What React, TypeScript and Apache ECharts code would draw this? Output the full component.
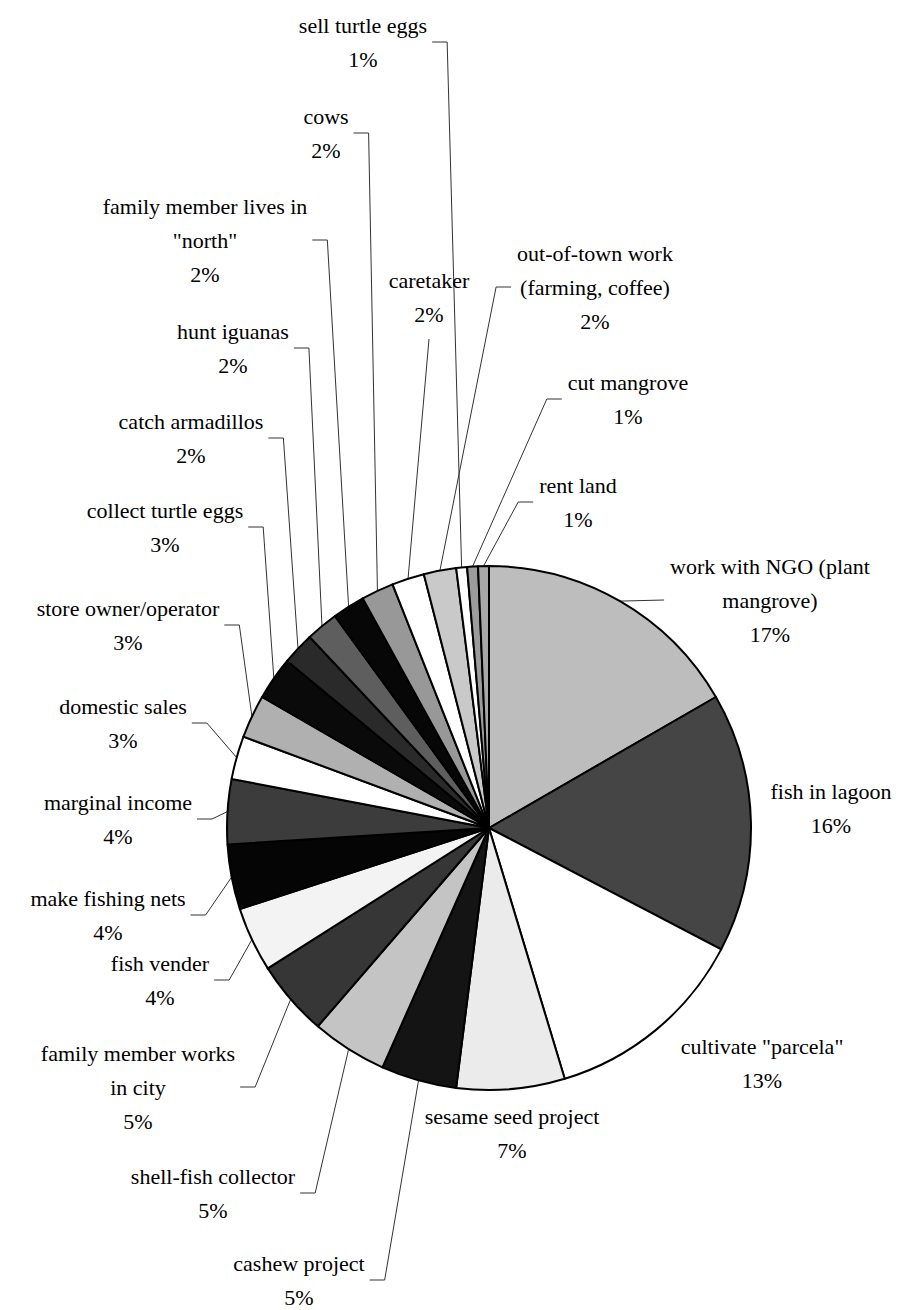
import React, { useEffect, useRef } from "react";
import * as echarts from "echarts";

// Categories (label text, line breaks as printed), clockwise from 12 o'clock
const categories: string[] = [
  "work with NGO (plant\nmangrove)",
  "fish in lagoon",
  'cultivate "parcela"',
  "sesame seed project",
  "cashew project",
  "shell-fish collector",
  "family member works\nin city",
  "fish vender",
  "make fishing nets",
  "marginal income",
  "domestic sales",
  "store owner/operator",
  "collect turtle eggs",
  "catch armadillos",
  "hunt iguanas",
  'family member lives in\n"north"',
  "cows",
  "caretaker",
  "out-of-town work\n(farming, coffee)",
  "sell turtle eggs",
  "cut mangrove",
  "rent land",
];

// Number of responses per category (total 150)
const counts: number[] = [25, 24, 19, 10, 7, 7, 7, 6, 6, 6, 4, 4, 4, 3, 3, 3, 3, 3, 3, 1, 1, 1];

// Grey shades of the printed slices
const sliceColors: string[] = [
  "#bdbdbd", "#454545", "#ffffff", "#ebebeb", "#141414", "#c4c4c4",
  "#363636", "#f3f3f3", "#050505", "#3c3c3c", "#ffffff", "#b0b0b0",
  "#0a0a0a", "#2a2a2a", "#5e5e5e", "#070707", "#989898", "#ffffff",
  "#c9c9c9", "#ffffff", "#9c9c9c", "#a8a8a8",
];

// Label placement (centre of the text block) and leader style
type Kind = "left" | "right" | "below" | "direct" | "none";
const labelCenters: [number, number][] = [
  [770, 600], [831, 808], [762, 1063], [512, 1133], [299, 1280], [213, 1193],
  [138, 1087], [160, 980], [108, 915], [118, 819], [123, 723], [128, 625],
  [165, 527], [191, 438], [233, 348], [205, 240], [326, 133], [429, 297],
  [595, 287], [363, 42], [628, 399], [578, 502],
];
const leaderKinds: Kind[] = [
  "direct", "none", "none", "none", "left", "left",
  "left", "left", "left", "left", "left", "left",
  "left", "left", "left", "left", "left", "below",
  "right", "left", "right", "right",
];

const total = counts.reduce((a, b) => a + b, 0);

export default function App() {
  const ref = useRef<HTMLDivElement>(null);
  useEffect(() => {
    if (!ref.current) return;
    const chart = echarts.init(ref.current, null, { renderer: "svg" });
    const option: any = {
      animation: false,
      backgroundColor: "#ffffff",
      series: [
        {
          type: "pie",
          center: [489, 828],
          radius: 262,
          startAngle: 90,
          clockwise: true,
          avoidLabelOverlap: false,
          data: categories.map((name, i) => ({
            name,
            value: counts[i],
            itemStyle: { color: sliceColors[i] },
          })),
          itemStyle: { borderColor: "#000", borderWidth: 2 },
          emphasis: { disabled: true },
          label: {
            show: true,
            position: "outside",
            overflow: "none",
            fontFamily: "'Liberation Serif', 'DejaVu Serif', serif",
            fontSize: 22,
            lineHeight: 34,
            color: "#000",
            formatter: (p: any) => `${p.name}\n${Math.round((p.value / total) * 100)}%`,
          },
          labelLine: {
            show: true,
            length: 10,
            length2: 10,
            smooth: false,
            lineStyle: { color: "#333", width: 1 },
          },
          labelLayout: (p: any) => {
            const i = p.dataIndex;
            const [x, y] = labelCenters[i];
            const w = p.labelRect.width;
            const h = p.labelRect.height;
            const a = p.labelLinePoints ? p.labelLinePoints[0] : [x, y];
            const kind = leaderKinds[i];
            let pts: number[][];
            if (kind === "left") {
              const e = x + w / 2 + 5;
              pts = [a, [e + 15, y], [e, y]];
            } else if (kind === "right") {
              const e = x - w / 2 - 6;
              pts = [a, [e - 15, y], [e, y]];
            } else if (kind === "below") {
              const b = y + h / 2 + 8;
              pts = [a, [x, b], [x, b]];
            } else if (kind === "direct") {
              const e = x - w / 2 - 6;
              pts = [a, [e, y], [e, y]];
            } else {
              pts = [a, a, a];
            }
            return { x, y, align: "center", verticalAlign: "middle", labelLinePoints: pts };
          },
        },
      ],
    };
    chart.setOption(option);
    return () => chart.dispose();
  }, []);
  return (
    <div
      ref={ref}
      style={{ position: "absolute", left: 0, top: 0, width: 899, height: 1310, background: "#fff" }}
    />
  );
}
